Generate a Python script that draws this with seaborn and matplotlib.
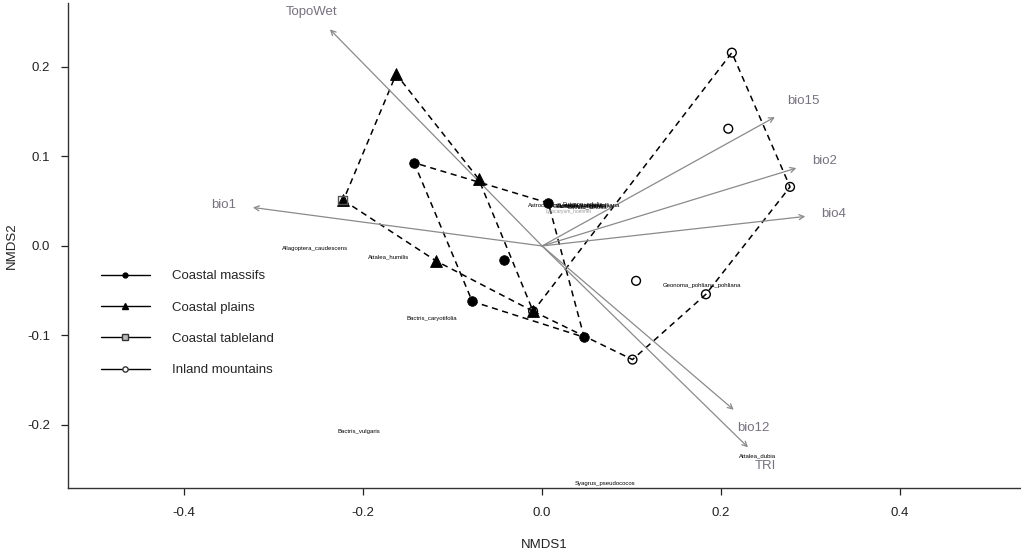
import numpy as np
import pandas as pd
import seaborn as sns
import matplotlib.pyplot as plt
from matplotlib.lines import Line2D

# site scores (NMDS1, NMDS2) per region
massifs_x = [-0.143, 0.007, -0.042, -0.078, 0.047]
massifs_y = [0.093, 0.048, -0.016, -0.062, -0.102]
plains_x = [-0.163, -0.071, -0.118, -0.010, -0.222]
plains_y = [0.192, 0.075, -0.017, -0.073, 0.051]
table_x = [-0.223]
table_y = [0.051]
inland_x = [0.212, 0.208, 0.277, 0.183, 0.105, 0.101, -0.010]
inland_y = [0.216, 0.131, 0.066, -0.054, -0.039, -0.127, -0.073]

# environmental vectors (arrow tips) and where their names sit
env_names = ["TopoWet", "bio1", "bio15", "bio2", "bio4", "bio12", "TRI"]
env_x = [-0.237, -0.323, 0.260, 0.284, 0.294, 0.214, 0.230]
env_y = [0.242, 0.043, 0.144, 0.087, 0.033, -0.183, -0.225]
env_lab_x = [-0.257, -0.356, 0.292, 0.316, 0.326, 0.236, 0.249]
env_lab_y = [0.262, 0.046, 0.162, 0.095, 0.036, -0.203, -0.246]

# species scores
species = ["Allagoptera_caudescens", "Attalea_humilis", "Bactris_caryotifolia",
           "Bactris_vulgaris", "Syagrus_pseudococos", "Attalea_dubia",
           "Geonoma_pohliana_pohliana", "Astrocaryum_aculeatissimum",
           "Geonoma_elegans", "Euterpe_edulis", "Geonoma_schottiana",
           "Bactris_setosa", "Syagrus_romanzoffiana"]
sp_x = [-0.254, -0.172, -0.123, -0.205, 0.070, 0.241, 0.179,
        0.028, 0.040, 0.045, 0.048, 0.050, 0.052]
sp_y = [-0.003, -0.012, -0.081, -0.207, -0.266, -0.235, -0.044,
        0.045, 0.044, 0.046, 0.045, 0.044, 0.045]
faint_species = ["Lytocaryum_hoehnei"]
faint_x = [0.030]
faint_y = [0.038]


def hull(xs, ys):
    pts = sorted(set(zip(xs, ys)))
    if len(pts) < 3:
        return pts

    def cross(o, a, b):
        return (a[0] - o[0]) * (b[1] - o[1]) - (a[1] - o[1]) * (b[0] - o[0])

    lower, upper = [], []
    for p in pts:
        while len(lower) >= 2 and cross(lower[-2], lower[-1], p) <= 0:
            lower.pop()
        lower.append(p)
    for p in reversed(pts):
        while len(upper) >= 2 and cross(upper[-2], upper[-1], p) <= 0:
            upper.pop()
        upper.append(p)
    h = lower[:-1] + upper[:-1]
    return h + [h[0]]


sns.set_style("ticks")
plt.rcParams['font.family'] = ['Liberation Sans', 'DejaVu Sans']

fig = plt.figure(figsize=(10.21, 5.56), dpi=100)
ax = fig.add_axes([68 / 1021, 1 - 488 / 556, 1 - 68 / 1021, 485 / 556])

grey = '#8a8a8a'
lab_grey = '#77727f'

# environmental arrows
for name, x, y, lx, ly in zip(env_names, env_x, env_y, env_lab_x, env_lab_y):
    ax.annotate("", xy=(x, y), xytext=(0, 0),
                arrowprops=dict(arrowstyle="->,head_length=0.35,head_width=0.18",
                                color=grey, lw=0.9, shrinkA=0, shrinkB=0))
    ax.text(lx, ly, name, color=lab_grey, fontsize=9.5,
            ha='center', va='center')

# convex hulls
for xs, ys in [(massifs_x, massifs_y), (plains_x, plains_y),
               (table_x, table_y), (inland_x, inland_y)]:
    h = hull(xs, ys)
    if len(h) > 2:
        hx, hy = zip(*h)
        ax.plot(hx, hy, color='black', lw=1.1, ls=(0, (4, 3)), zorder=2)

# points
sns.scatterplot(x=inland_x, y=inland_y, ax=ax, marker='o', s=40,
                facecolor='none', edgecolor='black', linewidth=1.0, zorder=3)
sns.scatterplot(x=plains_x, y=plains_y, ax=ax, marker='^', s=72,
                color='black', edgecolor='black', zorder=4)
sns.scatterplot(x=massifs_x, y=massifs_y, ax=ax, marker='o', s=48,
                color='black', edgecolor='black', zorder=4)
sns.scatterplot(x=table_x, y=table_y, ax=ax, marker='s', s=34,
                facecolor='none', edgecolor='#555555', linewidth=1.0, zorder=5)

# species names
for name, x, y in zip(species, sp_x, sp_y):
    ax.text(x, y, name, fontsize=4.3, color='black', ha='center', va='center')
for name, x, y in zip(faint_species, faint_x, faint_y):
    ax.text(x, y, name, fontsize=3.5, color='#999999', ha='center', va='center')

ax.set_xlim(-0.5296, 0.535)
ax.set_ylim(-0.2705, 0.2715)
ax.set_xticks([-0.4, -0.2, 0.0, 0.2, 0.4])
ax.set_yticks([-0.2, -0.1, 0.0, 0.1, 0.2])
ax.set_xticklabels(["-0.4", "-0.2", "0.0", "0.2", "0.4"])
ax.set_yticklabels(["-0.2", "-0.1", "0.0", "0.1", "0.2"])
ax.tick_params(axis='x', length=5, width=0.9, pad=9, labelsize=9.5, colors='#222222')
ax.tick_params(axis='y', length=5, width=0.9, pad=8, labelsize=9.5, colors='#222222')
sns.despine(ax=ax)
for sp in ['left', 'bottom']:
    ax.spines[sp].set_color('#333333')
    ax.spines[sp].set_linewidth(1.0)

ax.set_xlabel("NMDS1", fontsize=9.5, color='#222222')
ax.set_ylabel("NMDS2", fontsize=9.5, color='#222222')
ax.xaxis.set_label_coords(0.5, -0.105)
ax.yaxis.set_label_coords(-0.0525, 0.5)

handles = [
    Line2D([0], [0], color='black', lw=1.0, marker='o', markersize=3.5,
           mfc='black', mec='black'),
    Line2D([0], [0], color='black', lw=1.0, marker='^', markersize=3.8,
           mfc='black', mec='black'),
    Line2D([0], [0], color='black', lw=1.0, marker='s', markersize=3.8,
           mfc='#bbbbbb', mec='#333333'),
    Line2D([0], [0], color='black', lw=1.0, marker='o', markersize=3.8,
           mfc='white', mec='#333333'),
]
labels = ["Coastal massifs", "Coastal plains", "Coastal tableland", "Inland mountains"]
ax.legend(handles, labels, loc='upper left', bbox_to_anchor=(101 / 1021, 1 - 270 / 556),
          bbox_transform=fig.transFigure, frameon=False, fontsize=9.5,
          handlelength=3.7, handletextpad=1.7, labelspacing=1.45,
          borderpad=0, borderaxespad=0)

fig.savefig("out.png", dpi=100)
